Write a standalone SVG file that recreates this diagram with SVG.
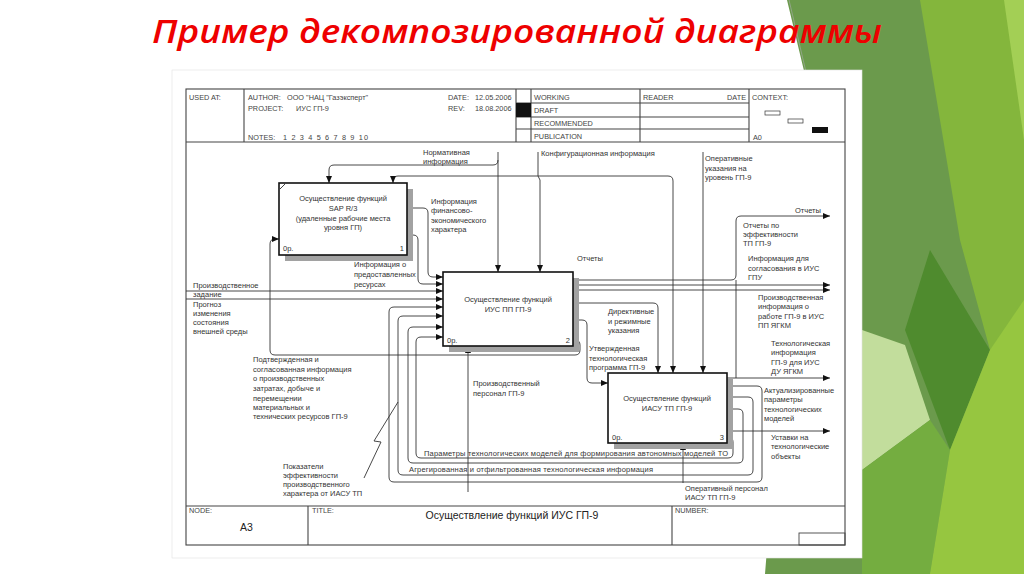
<svg xmlns="http://www.w3.org/2000/svg" width="1024" height="574" viewBox="0 0 1024 574">
<style>
.t{font-family:"Liberation Sans",Arial,sans-serif;font-size:7.5px;fill:#333}
.h{font-family:"Liberation Sans",Arial,sans-serif;font-size:7.3px;fill:#444}
.c{text-anchor:middle}
.e{text-anchor:end}
.ln{fill:none;stroke:#333;stroke-width:0.9}
.fr{fill:none;stroke:#444;stroke-width:1.1}
.box{fill:#fff;stroke:#111;stroke-width:1.6}
.sh{fill:#a2a2a2}
</style>
<defs>
<marker id="ah" markerWidth="7" markerHeight="6" refX="7" refY="3" orient="auto" markerUnits="userSpaceOnUse"><path d="M0,0 L7,3 L0,6 z" fill="#111"/></marker>
</defs>
<rect width="1024" height="574" fill="#fff"/>
<g id="background">
<polygon points="787,0 1024,0 1024,574 765,574 805,75" fill="#6b9a4c"/>
<polygon points="920,0 1024,0 1024,574 930,574 990,350 960,240" fill="#84b63c"/>
<polygon points="1004,0 1024,0 1024,140" fill="#a3cf55"/>
<polygon points="930,250 990,350 950,450 905,330" fill="#4f8b2e"/>
<polygon points="862,330 905,345 930,420 862,470" fill="#c2dd9c"/>
<polygon points="862,470 930,420 950,450 930,574 862,574" fill="#74ad40"/>
<polygon points="990,350 1024,300 1024,574 930,574 950,450" fill="#96c640"/>
<line x1="789" y1="0" x2="806" y2="72" stroke="#9aa896" stroke-width="0.8"/>
</g>
<text x="152" y="43" font-family="'Open Sans',sans-serif" font-style="italic" font-weight="600" font-size="33" fill="#ee0000" textLength="730" lengthAdjust="spacingAndGlyphs">Пример  декомпозированной диаграммы</text>
<rect x="172" y="70" width="690" height="488" fill="#fff" stroke="#e2e2e2" stroke-width="0.6"/>
<g id="frame">
<rect class="fr" x="186" y="89" width="659" height="456"/>
<line class="fr" x1="186" y1="142" x2="845" y2="142"/>
<line class="fr" x1="244" y1="89" x2="244" y2="142"/>
<line class="fr" x1="516" y1="89" x2="516" y2="142"/>
<line class="fr" x1="531" y1="89" x2="531" y2="142"/>
<line class="fr" x1="640" y1="89" x2="640" y2="142"/>
<line class="fr" x1="749" y1="89" x2="749" y2="142"/>
<line class="fr" x1="516" y1="103" x2="749" y2="103"/>
<line class="fr" x1="516" y1="117" x2="749" y2="117"/>
<line class="fr" x1="516" y1="129" x2="749" y2="129"/>
<rect x="516" y="103" width="15" height="14" fill="#111"/>
<rect x="765" y="111" width="15" height="4" fill="#fff" stroke="#333" stroke-width="0.7"/>
<rect x="788" y="119" width="15" height="4" fill="#fff" stroke="#333" stroke-width="0.7"/>
<rect x="812" y="127" width="16" height="6" fill="#111"/>
<line class="fr" x1="186" y1="506" x2="845" y2="506"/>
<line class="fr" x1="308" y1="506" x2="308" y2="545"/>
<line class="fr" x1="672" y1="506" x2="672" y2="545"/>
<rect x="799" y="533" width="46" height="12" fill="none" stroke="#444" stroke-width="0.9"/>
<text class="h" x="189" y="100">USED AT:</text>
<text class="h" x="248" y="100">AUTHOR:</text>
<text class="h" x="287" y="100">ООО "НАЦ "Газэксперт"</text>
<text class="h" x="248" y="111">PROJECT:</text>
<text class="h" x="296" y="111">ИУС ГП-9</text>
<text class="h" x="248" y="140">NOTES:</text>
<text class="h" x="283" y="140" textLength="85">1 2 3 4 5 6 7 8 9 10</text>
<text class="h" x="448" y="100">DATE:</text>
<text class="h" x="475" y="100">12.05.2006</text>
<text class="h" x="448" y="111">REV:</text>
<text class="h" x="475" y="111">18.08.2006</text>
<text class="h" x="534" y="100">WORKING</text>
<text class="h" x="534" y="113">DRAFT</text>
<text class="h" x="534" y="126">RECOMMENDED</text>
<text class="h" x="534" y="139">PUBLICATION</text>
<text class="h" x="643" y="100">READER</text>
<text class="h e" x="746" y="100">DATE</text>
<text class="h" x="752" y="100">CONTEXT:</text>
<text class="h" x="753" y="140">A0</text>
<text class="h" x="189" y="513" font-size="6.5">NODE:</text>
<text x="240" y="531" font-family="'Liberation Sans',Arial,sans-serif" font-size="10.5" fill="#222">A3</text>
<text class="h" x="312" y="513" font-size="6.5">TITLE:</text>
<text x="512" y="519" text-anchor="middle" font-family="'Liberation Sans',Arial,sans-serif" font-size="10.5" fill="#222">Осуществление функций ИУС ГП-9</text>
<text class="h" x="675" y="513" font-size="6.5">NUMBER:</text>
</g>
<g id="connectors">
<path class="ln" d="M498,152 L498,272" marker-end="url(#ah)"/>
<path class="ln" d="M498,160 Q498,165 493,165 L334,165 Q329,165 329,170 L329,183" marker-end="url(#ah)"/>
<path class="ln" d="M538,152 L538,176 L540,180 L540,272" marker-end="url(#ah)"/>
<path class="ln" d="M538,176 L668,176 Q673,176 673,181 L673,373" marker-end="url(#ah)"/>
<path class="ln" d="M538,176 L398,176 Q393,176 393,181 L393,183" marker-end="url(#ah)"/>
<path class="ln" d="M703,152 L703,373" marker-end="url(#ah)"/>
<path class="ln" d="M407,208 L423,208 Q428,208 428,213 L428,272 Q428,277 433,277 L443,277" marker-end="url(#ah)"/>
<path class="ln" d="M413,235 Q418,235 418,240 L418,279 Q418,284 423,284 L443,284" marker-end="url(#ah)"/>
<path class="ln" d="M186,291 L443,291" marker-end="url(#ah)"/>
<path class="ln" d="M186,299 L443,299" marker-end="url(#ah)"/>
<path class="ln" d="M727,386 L757,386 Q762,386 762,391 L762,477 Q762,482 757,482 L394,482 Q389,482 389,477 L389,312 Q389,307 394,307 L443,307" marker-end="url(#ah)"/>
<path class="ln" d="M727,397 L748,397 Q753,397 753,402 L753,470 Q753,475 748,475 L403,475 Q398,475 398,470 L398,321 Q398,316 403,316 L443,316" marker-end="url(#ah)"/>
<path class="ln" d="M727,409 L738,409 Q743,409 743,414 L743,458 Q743,463 738,463 L413,463 Q408,463 408,458 L408,332 Q408,327 413,327 L443,327" marker-end="url(#ah)"/>
<path class="ln" d="M727,437 L728,437 Q733,437 733,442 L733,453 Q733,458 728,458 L421,458 Q416,458 416,453 L416,342 Q416,337 421,337 L443,337" marker-end="url(#ah)"/>
<path class="ln" d="M573,303 L653,303 Q658,303 658,308 L658,373" marker-end="url(#ah)"/>
<path class="ln" d="M573,320 L582,320 Q587,320 587,325 L587,378 Q587,383 592,383 L608,383" marker-end="url(#ah)"/>
<path class="ln" d="M573,280 L731,280 Q736,280 736,275 L736,221 Q736,216 741,216 L830,216" marker-end="url(#ah)"/>
<path class="ln" d="M736,378 L736,280"/>
<path class="ln" d="M573,285 L830,285" marker-end="url(#ah)"/>
<path class="ln" d="M573,290 L830,290" marker-end="url(#ah)"/>
<path class="ln" d="M727,378 L830,378" marker-end="url(#ah)"/>
<path class="ln" d="M727,431 L830,431" marker-end="url(#ah)"/>
<path class="ln" d="M573,340 L575,340 Q580,340 580,345 L580,350 Q580,355 575,355 L275,355 Q270,355 270,350 L270,244 Q270,239 275,239 L279,239" marker-end="url(#ah)"/>
<path class="ln" d="M468,492 L468,346" marker-end="url(#ah)"/>
<path class="ln" d="M683,483 L683,443" marker-end="url(#ah)"/>
<polyline class="ln" points="364,478 381,442 374,441 398,402"/>
</g>
<g id="box1">
<rect class="sh" x="285" y="189" width="128" height="72"/>
<rect class="box" x="279" y="183" width="128" height="72"/>
<line x1="280" y1="189" x2="285" y2="184" stroke="#111" stroke-width="0.8"/>
<text class="t c" x="343" y="201">Осуществление функций</text>
<text class="t c" x="343" y="211">SAP R/3</text>
<text class="t c" x="343" y="221">(удаленные рабочие места</text>
<text class="t c" x="343" y="230">уровня ГП)</text>
<text class="t" x="283" y="251" font-size="7">0р.</text>
<text class="t e" x="404" y="251" font-size="7">1</text>
</g>
<g id="box2">
<rect class="sh" x="449" y="278" width="130" height="74"/>
<rect class="box" x="443" y="272" width="130" height="74"/>
<text class="t c" x="508" y="302">Осуществление функций</text>
<text class="t c" x="508" y="312">ИУС ПП ГП-9</text>
<text class="t" x="447" y="343" font-size="7">0р.</text>
<text class="t e" x="570" y="343" font-size="7">2</text>
</g>
<g id="box3">
<rect class="sh" x="614" y="379" width="119" height="70"/>
<rect class="box" x="608" y="373" width="119" height="70"/>
<text class="t c" x="667" y="401">Осуществление функций</text>
<text class="t c" x="667" y="411">ИАСУ ТП ГП-9</text>
<text class="t" x="612" y="440" font-size="7">0р.</text>
<text class="t e" x="724" y="440" font-size="7">3</text>
</g>
<g id="labels">
<text class="t" x="423" y="155">Нормативная</text>
<text class="t" x="423" y="164">информация</text>
<text class="t" x="541" y="156">Конфигурационная информация</text>
<text class="t" x="705" y="161">Оперативные</text>
<text class="t" x="705" y="171">указания на</text>
<text class="t" x="705" y="180">уровень ГП-9</text>
<text class="t" x="431" y="204">Информация</text>
<text class="t" x="431" y="213">финансово-</text>
<text class="t" x="431" y="223">экономического</text>
<text class="t" x="431" y="232">характера</text>
<text class="t" x="354" y="267">Информация о</text>
<text class="t" x="354" y="277">предоставленных</text>
<text class="t" x="354" y="287">ресурсах</text>
<text class="t" x="577" y="261">Отчеты</text>
<text class="t" x="193" y="288">Производственное</text>
<text class="t" x="193" y="297">задание</text>
<text class="t" x="193" y="307">Прогноз</text>
<text class="t" x="193" y="316">изменения</text>
<text class="t" x="193" y="325">состояния</text>
<text class="t" x="193" y="334">внешней среды</text>
<text class="t" x="253" y="362">Подтвержденная и</text>
<text class="t" x="253" y="372">согласованная информация</text>
<text class="t" x="253" y="381">о производственных</text>
<text class="t" x="253" y="391">затратах,  добыче и</text>
<text class="t" x="253" y="401">перемещении</text>
<text class="t" x="253" y="410">материальных и</text>
<text class="t" x="253" y="419">технических ресурсов ГП-9</text>
<text class="t" x="283" y="469">Показатели</text>
<text class="t" x="283" y="478">эффективности</text>
<text class="t" x="283" y="487">производственного</text>
<text class="t" x="283" y="496">характера от ИАСУ ТП</text>
<text class="t" x="608" y="314">Директивные</text>
<text class="t" x="608" y="324">и режимные</text>
<text class="t" x="608" y="333">указания</text>
<text class="t" x="589" y="351">Утвержденная</text>
<text class="t" x="589" y="361">технологическая</text>
<text class="t" x="589" y="370">программа ГП-9</text>
<text class="t" x="473" y="386">Производственный</text>
<text class="t" x="473" y="396">персонал ГП-9</text>
<text class="t" x="424" y="456" textLength="304">Параметры технологических моделей для формирования автономных моделей ТО</text>
<text class="t" x="409" y="472" textLength="244">Агрегированная и отфильтрованная технологическая информация</text>
<text class="t" x="685" y="491">Оперативный персонал</text>
<text class="t" x="685" y="500">ИАСУ ТП ГП-9</text>
<text class="t" x="795" y="213">Отчеты</text>
<text class="t" x="743" y="228">Отчеты по</text>
<text class="t" x="743" y="237">эффективности</text>
<text class="t" x="743" y="246">ТП ГП-9</text>
<text class="t" x="748" y="261">Информация для</text>
<text class="t" x="748" y="271">согласования в ИУС</text>
<text class="t" x="748" y="280">ГПУ</text>
<text class="t" x="758" y="300">Производственная</text>
<text class="t" x="758" y="309">информация о</text>
<text class="t" x="758" y="319">работе ГП-9 в ИУС</text>
<text class="t" x="758" y="328">ПП ЯГКМ</text>
<text class="t" x="771" y="346">Технологическая</text>
<text class="t" x="771" y="355">информация</text>
<text class="t" x="771" y="365">ГП-9 для ИУС</text>
<text class="t" x="771" y="374">ДУ ЯГКМ</text>
<text class="t" x="764" y="393">Актуализированные</text>
<text class="t" x="764" y="402">параметры</text>
<text class="t" x="764" y="412">технологических</text>
<text class="t" x="764" y="421">моделей</text>
<text class="t" x="771" y="440">Уставки на</text>
<text class="t" x="771" y="449">технологические</text>
<text class="t" x="771" y="459">объекты</text>
</g>
</svg>
